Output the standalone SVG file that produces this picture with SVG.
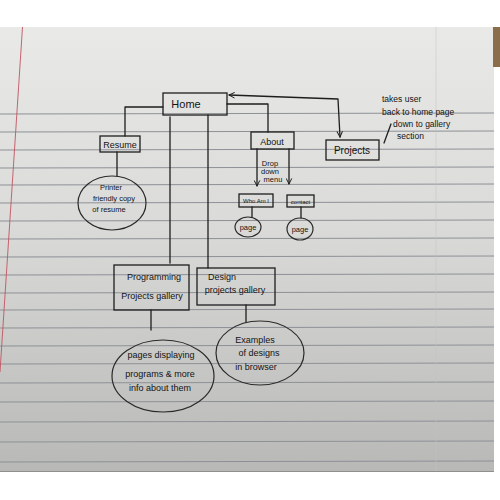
<svg xmlns="http://www.w3.org/2000/svg" width="500" height="500" viewBox="0 0 500 500">
  <defs>
    <linearGradient id="paper" x1="0" y1="0" x2="0" y2="1">
      <stop offset="0" stop-color="#e9e9e7"/>
      <stop offset="0.45" stop-color="#dadad8"/>
      <stop offset="1" stop-color="#b8b8b6"/>
    </linearGradient>
    <marker id="vhead" viewBox="0 0 10 10" refX="9" refY="5" markerWidth="7" markerHeight="7" orient="auto-start-reverse" markerUnits="userSpaceOnUse">
      <path d="M1,1 L9,5 L1,9" fill="none" stroke="#1e1e1e" stroke-width="1.4"/>
    </marker>
    <style>
      .rule { stroke: #8d9096; stroke-width: 1; }
      .ink { fill: none; stroke: #1e1e1e; stroke-width: 1.3; stroke-linecap: round; stroke-linejoin: round; }
      .box { fill: none; stroke: #1e1e1e; stroke-width: 1.3; }
      .bubble { fill: none; stroke: #2a2a2a; stroke-width: 1.2; }
      text { font-family: "Liberation Sans", "DejaVu Sans", sans-serif; fill: #141414; text-anchor: middle; }
      .lg { font-size: 11px; }
      .md { font-size: 9px; }
      .sm { font-size: 7.5px; }
      .xs { font-size: 6px; }
      .note { font-size: 8.5px; text-anchor: start; }
    </style>
  </defs>

  <!-- background and lined paper sheet -->
  <rect width="500" height="500" fill="#ffffff"/>
  <rect x="0" y="27" width="494" height="445" fill="url(#paper)"/>
  <rect x="493" y="27" width="7" height="40" fill="#8a6d4a"/>
  <line x1="0" y1="471.5" x2="494" y2="471.5" stroke="#8f8f8d" stroke-width="1"/>
  <g class="rule">
    <line x1="0" y1="114" x2="494" y2="113"/>
    <line x1="0" y1="132" x2="494" y2="131"/>
    <line x1="0" y1="150" x2="494" y2="149"/>
    <line x1="0" y1="168" x2="494" y2="167"/>
    <line x1="0" y1="185" x2="494" y2="184"/>
    <line x1="0" y1="203" x2="494" y2="202"/>
    <line x1="0" y1="221" x2="494" y2="220"/>
    <line x1="0" y1="239" x2="494" y2="238"/>
    <line x1="0" y1="257" x2="494" y2="256"/>
    <line x1="0" y1="275" x2="494" y2="274"/>
    <line x1="0" y1="293" x2="494" y2="292"/>
    <line x1="0" y1="310" x2="494" y2="309"/>
    <line x1="0" y1="328" x2="494" y2="327"/>
    <line x1="0" y1="346" x2="494" y2="345"/>
    <line x1="0" y1="364" x2="494" y2="363"/>
    <line x1="0" y1="383" x2="494" y2="382"/>
    <line x1="0" y1="402" x2="494" y2="401"/>
    <line x1="0" y1="422" x2="494" y2="421"/>
    <line x1="0" y1="442" x2="494" y2="441"/>
    <line x1="0" y1="462" x2="494" y2="461"/>
  </g>
  <line x1="22.5" y1="27" x2="0" y2="372" stroke="#c25560" stroke-width="0.9"/>
  <line x1="436" y1="27" x2="436" y2="471" stroke="#c4c4c2" stroke-width="0.8" opacity="0.6"/>

  <!-- connectors -->
  <g id="connectors" class="ink">
    <path d="M163,107 H125 V136"/>
    <path d="M170,117 V263"/>
    <path d="M208,115 V268"/>
    <path d="M227,104 H268 V132"/>
    <path d="M229,95 L338,99 L340,137" marker-start="url(#vhead)" marker-end="url(#vhead)"/>
    <path d="M257,149 V186" marker-end="url(#vhead)"/>
    <path d="M289,149 V184" marker-end="url(#vhead)"/>
    <path d="M252,207 V217"/>
    <path d="M301,207 V218"/>
    <path d="M117,152 V176"/>
    <path d="M151,310 V330"/>
    <path d="M246,305 V322"/>
    <path d="M384,143 L391,124"/>
  </g>

  <g id="home">
    <rect class="box" x="163" y="93" width="64" height="22"/>
    <text class="lg" x="186" y="108">Home</text>
  </g>

  <g id="resume">
    <rect class="box" x="100" y="136" width="40" height="16"/>
    <text class="md" x="120" y="148">Resume</text>
  </g>

  <g id="resume-page">
    <ellipse class="bubble" cx="112" cy="203" rx="34" ry="27"/>
    <text class="sm" x="111" y="190">Printer</text>
    <text class="sm" x="114" y="201">friendly copy</text>
    <text class="sm" x="109" y="212">of resume</text>
  </g>

  <g id="about">
    <rect class="box" x="251" y="132" width="43" height="17"/>
    <text class="md" x="272" y="145">About</text>
    <text class="sm" x="270" y="166">Drop</text>
    <text class="sm" x="270" y="174">down</text>
    <text class="sm" x="273" y="182">menu</text>
  </g>

  <g id="projects">
    <rect class="box" x="326" y="140" width="53" height="20"/>
    <text class="md" x="352" y="153.5" style="font-size:10px">Projects</text>
  </g>

  <g id="projects-note">
    <text class="note" x="382" y="102">takes user</text>
    <text class="note" x="382" y="115">back to home page</text>
    <text class="note" x="393" y="127">down to gallery</text>
    <text class="note" x="397" y="139">section</text>
  </g>

  <g id="who-am-i">
    <rect class="box" x="239" y="194" width="34" height="13"/>
    <text class="xs" x="256" y="203">Who Am I</text>
  </g>

  <g id="contact">
    <rect class="box" x="287" y="195" width="27" height="12"/>
    <text class="xs" x="300.5" y="203.5">contact</text>
  </g>

  <g id="who-am-i-page">
    <ellipse class="bubble" cx="248" cy="227" rx="13" ry="10"/>
    <text class="sm" x="248" y="230">page</text>
  </g>

  <g id="contact-page">
    <ellipse class="bubble" cx="300" cy="229" rx="13" ry="11"/>
    <text class="sm" x="300" y="232">page</text>
  </g>

  <g id="programming-gallery">
    <rect class="box" x="114" y="265" width="75" height="45"/>
    <text class="md" x="154" y="280">Programming</text>
    <text class="md" x="152" y="299">Projects gallery</text>
  </g>

  <g id="design-gallery">
    <rect class="box" x="197" y="268" width="78" height="37"/>
    <text class="md" x="222" y="280">Design</text>
    <text class="md" x="235" y="293">projects gallery</text>
  </g>

  <g id="programming-pages">
    <ellipse class="bubble" cx="163" cy="376" rx="51" ry="36"/>
    <text class="md" x="161" y="358">pages displaying</text>
    <text class="md" x="160" y="377">programs &amp; more</text>
    <text class="md" x="160" y="391">info about them</text>
  </g>

  <g id="design-examples">
    <ellipse class="bubble" cx="260" cy="353" rx="44" ry="32"/>
    <text class="md" x="255" y="343">Examples</text>
    <text class="md" x="259" y="356">of designs</text>
    <text class="md" x="256" y="370">in browser</text>
  </g>
</svg>
